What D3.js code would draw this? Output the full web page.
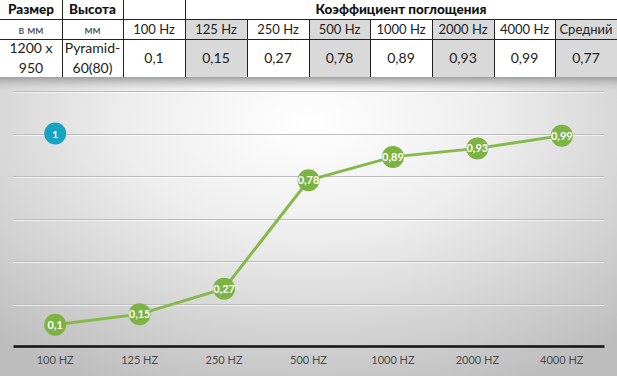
<!DOCTYPE html>
<html><head><meta charset="utf-8">
<script src="https://cdn.jsdelivr.net/npm/d3@7"></script>
<style>
html,body{margin:0;padding:0;background:#fff;}
svg{display:block;}
</style></head>
<body>
<svg id="c" width="617" height="376"></svg>
<script>
const categories = ["100 HZ","125 HZ","250 HZ","500 HZ","1000 HZ","2000 HZ","4000 HZ"];
const values = [0.1,0.15,0.27,0.78,0.89,0.93,0.99];
const valueLabels = ["0,1","0,15","0,27","0,78","0,89","0,93","0,99"];
const tableHeader1 = ["Размер","Высота","", "Коэффициент поглощения"];
const tableHeader2 = ["в мм","мм","100 Hz","125 Hz","250 Hz","500 Hz","1000 Hz","2000 Hz","4000 Hz","Средний"];
const tableRow = [["1200 x","950"],["Pyramid-","60(80)"],["0,1"],["0,15"],["0,27"],["0,78"],["0,89"],["0,93"],["0,99"],["0,77"]];
const shadedCols = [3,5,7,9];
const yTicks = [0,0.2,0.4,0.6,0.8,1.0,1.2];

const W=617,H=376;
const svg=d3.select("#c");
const font="Lato, 'Open Sans', sans-serif";
const defs=svg.append("defs");
const rg=defs.append("radialGradient").attr("id","bg").attr("cx","0.5").attr("cy","0.15").attr("r","0.75")
  .attr("gradientTransform","translate(0.5,0.15) scale(1,1.3) translate(-0.5,-0.15)");
rg.append("stop").attr("offset","0").attr("stop-color","#ffffff");
rg.append("stop").attr("offset","0.4").attr("stop-color","#ededed");
rg.append("stop").attr("offset","1").attr("stop-color","#bdbdbd");
const tg=defs.append("linearGradient").attr("id","topsh").attr("x1",0).attr("y1",0).attr("x2",0).attr("y2",1);
tg.append("stop").attr("offset","0").attr("stop-color","#a0a0a0").attr("stop-opacity",1);
tg.append("stop").attr("offset","1").attr("stop-color","#cccccc").attr("stop-opacity",0);

// chart background
const top0=77;
svg.append("rect").attr("x",0).attr("y",top0).attr("width",W).attr("height",H-top0).attr("fill","url(#bg)");
svg.append("rect").attr("x",0).attr("y",top0).attr("width",W).attr("height",14).attr("fill","url(#topsh)");

// table
const colX=d3.range(11).map(i=>Math.round(i*61.7));
colX[10]=W;
const rowY=[0,19,39,77];
const tbl=svg.append("g");
shadedCols.forEach(ci=>{
  tbl.append("rect").attr("x",colX[ci]).attr("y",rowY[1]).attr("width",colX[ci+1]-colX[ci]).attr("height",rowY[3]-rowY[1]).attr("fill","#d9d9d9");
});
[rowY[1],rowY[2]].forEach(y=>tbl.append("line").attr("x1",0).attr("x2",W).attr("y1",y+0.5).attr("y2",y+0.5).attr("stroke","#222").attr("stroke-width",1));
for(let i=1;i<10;i++){
  const y1 = i<=3 ? 0 : rowY[1];
  tbl.append("line").attr("x1",colX[i]+0.5).attr("x2",colX[i]+0.5).attr("y1",y1).attr("y2",rowY[3]).attr("stroke","#222").attr("stroke-width",1);
}
const h1x=[(colX[0]+colX[1])/2,(colX[1]+colX[2])/2,(colX[2]+colX[3])/2,(colX[3]+W)/2];
tableHeader1.forEach((t,i)=>{
  tbl.append("text").attr("x",h1x[i]).attr("y",14).attr("text-anchor","middle").attr("font-family",font)
    .attr("font-size",13.5).attr("font-weight","900").attr("fill","#111").text(t);
});
tableHeader2.forEach((t,i)=>{
  tbl.append("text").attr("x",(colX[i]+colX[i+1])/2).attr("y",34).attr("text-anchor","middle").attr("font-family",font)
    .attr("font-size",i<2?11.5:13).attr("fill",i<2?"#444":"#222").text(t);
});
tableRow.forEach((lines,i)=>{
  const cx=(colX[i]+colX[i+1])/2;
  if(lines.length===1){
    tbl.append("text").attr("x",cx).attr("y",63).attr("text-anchor","middle").attr("font-family",font)
      .attr("font-size",14).attr("fill","#222").text(lines[0]);
  } else {
    lines.forEach((l,j)=>tbl.append("text").attr("x",cx).attr("y",53+j*20).attr("text-anchor","middle").attr("font-family",font)
      .attr("font-size",14).attr("fill","#222").text(l));
  }
});

const x=d3.scaleBand().domain(categories).range([13,604]);
const y=d3.scaleLinear().domain([0,1.2]).range([346,91]);

const g=svg.append("g");
const gl=g.selectAll("g.grid").data(yTicks.slice(1)).join("g").attr("class","grid");
gl.append("line").attr("x1",13).attr("x2",604).attr("y1",d=>Math.round(y(d))+0.5).attr("y2",d=>Math.round(y(d))+0.5)
  .attr("stroke","#bcbcbc").attr("stroke-width",1.2);
gl.append("line").attr("x1",13).attr("x2",604).attr("y1",d=>Math.round(y(d))+1.5).attr("y2",d=>Math.round(y(d))+1.5)
  .attr("stroke","#ffffff").attr("stroke-opacity",0.6).attr("stroke-width",1);
const xa=g.append("g").attr("transform",`translate(0,${y(0)})`).call(d3.axisBottom(x).tickSize(0).tickPadding(10));
xa.select(".domain").attr("stroke","#111").attr("stroke-width",2.5);
xa.selectAll("text").attr("font-family",font).attr("font-size",11).attr("fill","#4a4a4a");

g.append("circle").attr("cx",x(categories[0])+x.bandwidth()/2).attr("cy",y(1.0)).attr("r",11).attr("fill","#17a3c2");
g.append("text").attr("x",x(categories[0])+x.bandwidth()/2).attr("y",y(1.0)+4).attr("text-anchor","middle")
  .attr("font-family",font).attr("font-size",10).attr("font-weight","bold").attr("fill","#fff").text("1");

const pts=categories.map((c,i)=>({x:x(c)+x.bandwidth()/2,y:y(values[i]),l:valueLabels[i]}));
g.append("path").datum(pts).attr("d",d3.line().x(d=>d.x).y(d=>d.y)).attr("fill","none").attr("stroke","#86b94a").attr("stroke-width",3);
g.selectAll("circle.pt").data(pts).join("circle").attr("class","pt").attr("cx",d=>d.x).attr("cy",d=>d.y).attr("r",11).attr("fill","#7cb342");
g.selectAll("text.lbl").data(pts).join("text").attr("class","lbl").attr("x",d=>d.x).attr("y",d=>d.y+4)
  .attr("text-anchor","middle").attr("font-family",font).attr("font-size",11).attr("font-weight","bold").attr("fill","#fff").text(d=>d.l);
</script>
</body></html>
